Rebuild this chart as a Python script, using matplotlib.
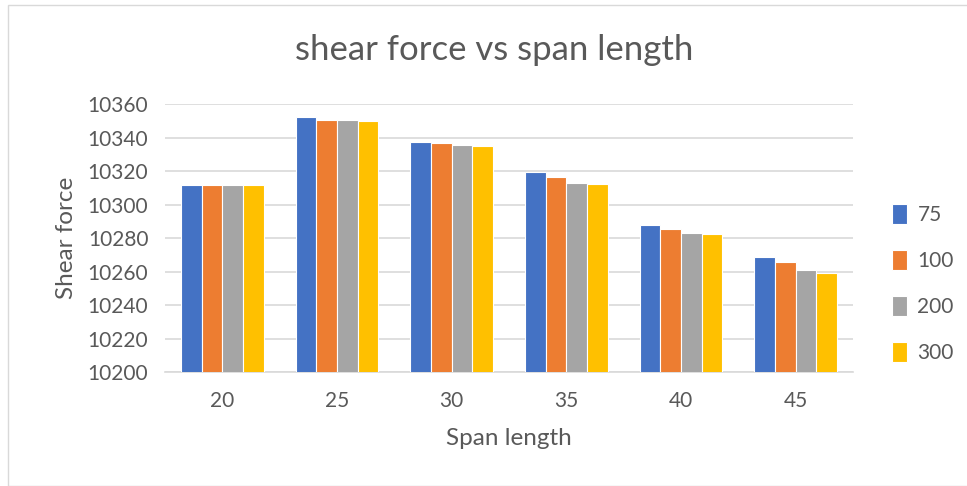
import matplotlib
matplotlib.use("Agg")
import matplotlib.pyplot as plt
import numpy as np
from matplotlib.patches import Rectangle

categories = ["20", "25", "30", "35", "40", "45"]
series_names = ["75", "100", "200", "300"]
s75 = [10311.8, 10352.4, 10337.3, 10319.2, 10287.9, 10268.6]
s100 = [10311.8, 10350.2, 10336.9, 10316.5, 10285.5, 10265.9]
s200 = [10311.4, 10350.2, 10335.5, 10312.6, 10282.9, 10261.0]
s300 = [10311.4, 10349.9, 10335.1, 10312.2, 10282.5, 10259.4]
yticks = [10200, 10220, 10240, 10260, 10280, 10300, 10320, 10340, 10360]
colors = ["#4472C4", "#ED7D31", "#A5A5A5", "#FFC000"]

plt.rcParams['font.family'] = ['Lato', 'DejaVu Sans']

fig = plt.figure(figsize=(9.67, 4.86), dpi=100)
fig.patches.append(Rectangle((8/967, 0), 2, (486-5)/486, transform=fig.transFigure,
                             fill=False, edgecolor="#D9D9D9", linewidth=1))

ax = fig.add_axes([165/967, (486-372)/486, (853-165)/967, (372-104)/486])
x = np.arange(len(categories))
w = 0.18
for i, (name, vals) in enumerate(zip(series_names, [s75, s100, s200, s300])):
    ax.bar(x + (i - 1.5) * w, vals, width=w, color=colors[i], edgecolor="white",
           linewidth=0.8, label=name, zorder=3)

ax.set_xlim(-0.5, len(categories) - 0.5)
ax.set_ylim(10200, 10360)
ax.set_yticks(yticks)
ax.set_xticks(x)
ax.set_xticklabels(categories)
ax.grid(axis="y", color="#D9D9D9", linewidth=1.2, zorder=0)
for s in ["top", "right", "left"]:
    ax.spines[s].set_visible(False)
ax.spines["bottom"].set_color("#D9D9D9")
ax.spines["bottom"].set_linewidth(1.2)
ax.tick_params(axis="both", length=0, labelsize=15, colors="#595959")
ax.tick_params(axis="x", pad=14)
ax.tick_params(axis="y", pad=12)

ax.set_xlabel("Span length", fontsize=17.5, color="#595959", labelpad=12)
ax.set_ylabel("Shear force", fontsize=17.5, color="#595959", labelpad=8)
fig.text(0.511, 1 - 50/486, "shear force vs span length", ha="center", va="center",
         fontsize=25, color="#595959")

leg = ax.legend(loc="center left", bbox_to_anchor=(1.03, 0.33), frameon=False,
                fontsize=15, handlelength=0.7, handleheight=1.1, labelspacing=1.2,
                handletextpad=0.5)
for t in leg.get_texts():
    t.set_color("#595959")

fig.savefig("out.png", dpi=100, facecolor="white")
